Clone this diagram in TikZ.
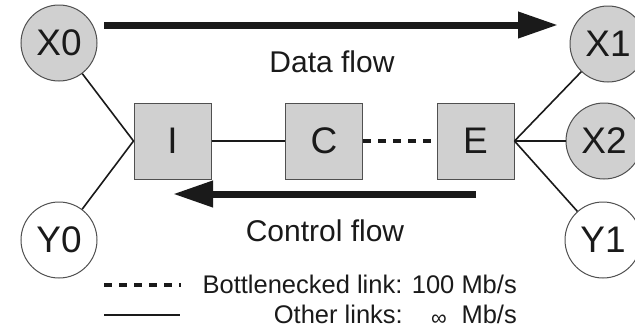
\documentclass[tikz,border=0pt]{standalone}
\usepackage{fontspec}
\setmainfont{Liberation Sans}
\usetikzlibrary{arrows.meta}
\definecolor{nodegray}{HTML}{D0D0D0}
\definecolor{edgegray}{HTML}{505050}
\definecolor{textblack}{HTML}{1A1A1A}
\begin{document}
\begin{tikzpicture}[x=1pt,y=-1pt,
  host/.style={circle,draw=edgegray,line width=1pt,minimum size=76pt,inner sep=0pt,text=textblack,font=\fontsize{37}{39}\selectfont},
  shost/.style={host,fill=nodegray},
  whost/.style={host,fill=white},
  router/.style={rectangle,draw=edgegray,line width=1pt,fill=nodegray,minimum width=77pt,minimum height=76pt,inner sep=0pt,text=textblack,font=\fontsize{37}{39}\selectfont},
  link/.style={line width=1.6pt,textblack},
  blink/.style={line width=3.2pt,textblack,dash pattern=on 8pt off 7pt},
  flow/.style={line width=7pt,textblack,-{Triangle[length=40pt,width=25pt]}},
  lbl/.style={font=\fontsize{30}{32}\selectfont,inner sep=0pt,text=textblack},
  leg/.style={font=\fontsize{25.5}{28}\selectfont,inner sep=0pt,text=textblack},
  sym/.style={font=\fontsize{22}{24}\selectfont,inner sep=0pt,text=textblack}]
\useasboundingbox (0,0) rectangle (635,330);
\node[shost] (X0) at (59,43) {X0};
\node[whost] (Y0) at (59,240) {Y0};
\node[shost] (X1) at (608,44) {X1};
\node[shost] (X2) at (604,141) {X2};
\node[whost] (Y1) at (603,240) {Y1};
\node[router] (I) at (172.5,141) {I};
\node[router] (C) at (324,141) {C};
\node[router] (E) at (475.5,141) {E};
\draw[link] (X0) -- (I.west);
\draw[link] (Y0) -- (I.west);
\draw[link] (I) -- (C);
\draw[blink] (C) -- (E);
\draw[link] (E.east) -- (X1);
\draw[link] (E.east) -- (X2);
\draw[link] (E.east) -- (Y1);
\coordinate (d1) at (104,25);
\coordinate (d2) at (558,25);
\coordinate (c1) at (476,194);
\coordinate (c2) at (173,194);
\draw[flow] (d1) -- (d2);
\draw[flow] (c1) -- (c2);
\node[lbl] (df) at (332,62) {Data flow};
\node[lbl] (cf) at (325,231) {Control flow};
\coordinate (l1a) at (104,285);
\coordinate (l1b) at (181,285);
\coordinate (l2a) at (104,315);
\coordinate (l2b) at (180,315);
\draw[blink] (l1a) -- (l1b);
\draw[link] (l2a) -- (l2b);
\node[leg,anchor=base east] (t1) at (517,293) {Bottlenecked link: 100 Mb/s};
\node[leg,anchor=base east] (t2) at (403,323) {Other links:};
\node[sym,anchor=base] (t3) at (439,325) {∞};
\node[leg,anchor=base east] (t4) at (517,323) {Mb/s};
\end{tikzpicture}
\end{document}
